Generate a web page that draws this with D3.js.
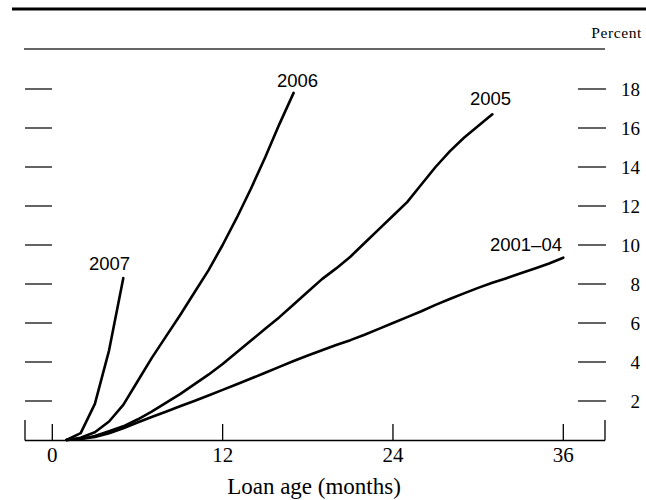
<!DOCTYPE html>
<html>
<head>
<meta charset="utf-8">
<script src="https://cdn.jsdelivr.net/npm/d3@7"></script>
<style>
  html, body { margin: 0; padding: 0; background: #fff; }
  svg { display: block; }
</style>
</head>
<body>
<svg id="chart" width="646" height="500"></svg>
<script>
// ---- data ----
const monthTicks = [0, 12, 24, 36];
const percentTicks = [2, 4, 6, 8, 10, 12, 14, 16, 18];

const months2007 = [1, 2, 3, 4, 5];
const values2007 = [0, 0.35, 1.85, 4.6, 8.3];

const months2006 = [1, 2, 3, 4, 5, 6, 7, 8, 9, 10, 11, 12, 13, 14, 15, 16, 17];
const values2006 = [0, 0.12, 0.4, 0.95, 1.8, 3.0, 4.2, 5.3, 6.4, 7.55, 8.7, 10.0, 11.4, 12.9, 14.5, 16.2, 17.8];

const months2005 = [1, 2, 3, 4, 5, 6, 7, 8, 9, 10, 11, 12, 13, 14, 15, 16, 17, 18, 19, 20, 21, 22, 23, 24, 25, 26, 27, 28, 29, 30, 31];
const values2005 = [0, 0.05, 0.2, 0.45, 0.7, 1.05, 1.45, 1.9, 2.35, 2.85, 3.35, 3.9, 4.5, 5.1, 5.7, 6.3, 6.95, 7.6, 8.25, 8.8, 9.4, 10.1, 10.8, 11.5, 12.2, 13.1, 14.0, 14.8, 15.5, 16.1, 16.7];

const months200104 = [1, 2, 3, 4, 5, 6, 7, 8, 9, 10, 11, 12, 13, 14, 15, 16, 17, 18, 19, 20, 21, 22, 23, 24, 25, 26, 27, 28, 29, 30, 31, 32, 33, 34, 35, 36];
const values200104 = [0, 0.05, 0.15, 0.35, 0.6, 0.9, 1.18, 1.45, 1.73, 2.0, 2.28, 2.57, 2.86, 3.15, 3.45, 3.75, 4.05, 4.33, 4.6, 4.87, 5.12, 5.4, 5.7, 6.0, 6.3, 6.6, 6.93, 7.23, 7.52, 7.8, 8.06, 8.3, 8.55, 8.8, 9.05, 9.35];

const seriesNames = ["2007", "2006", "2005", "2001\u201304"];

// ---- layout ----
const svg = d3.select("#chart");
const x = d3.scaleLinear().domain([0, 36]).range([52.3, 563.3]);
const y = d3.scaleLinear().domain([0, 18]).range([440, 89]);
const baseY = y(0);
const leftEnd = 25, rightEnd = 605;

// top rules
svg.append("line").attr("x1", 12).attr("x2", 646).attr("y1", 9).attr("y2", 9)
  .attr("stroke", "#000").attr("stroke-width", 3);
svg.append("line").attr("x1", 24).attr("x2", rightEnd).attr("y1", 49).attr("y2", 49)
  .attr("stroke", "#333").attr("stroke-width", 1.6);

svg.append("text").attr("x", 642).attr("y", 37.5).attr("text-anchor", "end")
  .attr("font-family", "Liberation Serif, serif").attr("font-size", 15.5)
  .attr("letter-spacing", 0.6)
  .text("Percent");

// left / right dash ticks
const dashes = svg.append("g").attr("stroke", "#222").attr("stroke-width", 1.4);
percentTicks.forEach(v => {
  dashes.append("line").attr("x1", leftEnd).attr("x2", 52).attr("y1", y(v)).attr("y2", y(v));
  dashes.append("line").attr("x1", 578).attr("x2", 606).attr("y1", y(v)).attr("y2", y(v));
});
svg.append("g").selectAll("text").data(percentTicks).join("text")
  .attr("x", 640).attr("y", d => y(d) + 6.5).attr("text-anchor", "end")
  .attr("font-family", "Liberation Serif, serif").attr("font-size", 19)
  .text(d => d);

// bottom axis
const ax = svg.append("g").attr("stroke", "#000").attr("stroke-width", 1.3);
ax.append("line").attr("x1", leftEnd).attr("x2", rightEnd).attr("y1", baseY + 0.5).attr("y2", baseY + 0.5);
ax.append("line").attr("x1", leftEnd).attr("x2", leftEnd).attr("y1", 420).attr("y2", baseY + 0.5);
ax.append("line").attr("x1", rightEnd).attr("x2", rightEnd).attr("y1", 420).attr("y2", baseY + 0.5);
monthTicks.forEach(m => {
  ax.append("line").attr("x1", x(m)).attr("x2", x(m)).attr("y1", 424).attr("y2", baseY + 0.5);
});
svg.append("g").selectAll("text").data(monthTicks).join("text")
  .attr("x", d => x(d)).attr("y", 462).attr("text-anchor", "middle")
  .attr("font-family", "Liberation Serif, serif").attr("font-size", 21)
  .text(d => d);

svg.append("text").attr("x", 314).attr("y", 494).attr("text-anchor", "middle")
  .attr("font-family", "Liberation Serif, serif").attr("font-size", 23)
  .text("Loan age (months)");

// lines
const line = d3.line().x(d => x(d[0])).y(d => y(d[1]));
const series = [
  d3.zip(months2007, values2007),
  d3.zip(months2006, values2006),
  d3.zip(months2005, values2005),
  d3.zip(months200104, values200104)
];
svg.append("g").selectAll("path").data(series).join("path")
  .attr("d", line).attr("fill", "none").attr("stroke", "#000")
  .attr("stroke-width", 2.6).attr("stroke-linejoin", "round").attr("stroke-linecap", "round");

// series labels
const labelPos = [
  { x: 89, y: 270, anchor: "start" },
  { x: 277, y: 87, anchor: "start" },
  { x: 470, y: 105, anchor: "start" },
  { x: 562, y: 251, anchor: "end" }
];
svg.append("g").selectAll("text").data(seriesNames).join("text")
  .attr("x", (d, i) => labelPos[i].x).attr("y", (d, i) => labelPos[i].y)
  .attr("text-anchor", (d, i) => labelPos[i].anchor)
  .attr("font-family", "Liberation Sans, Arial, sans-serif").attr("font-size", 18.5)
  .text(d => d);
</script>
</body>
</html>
